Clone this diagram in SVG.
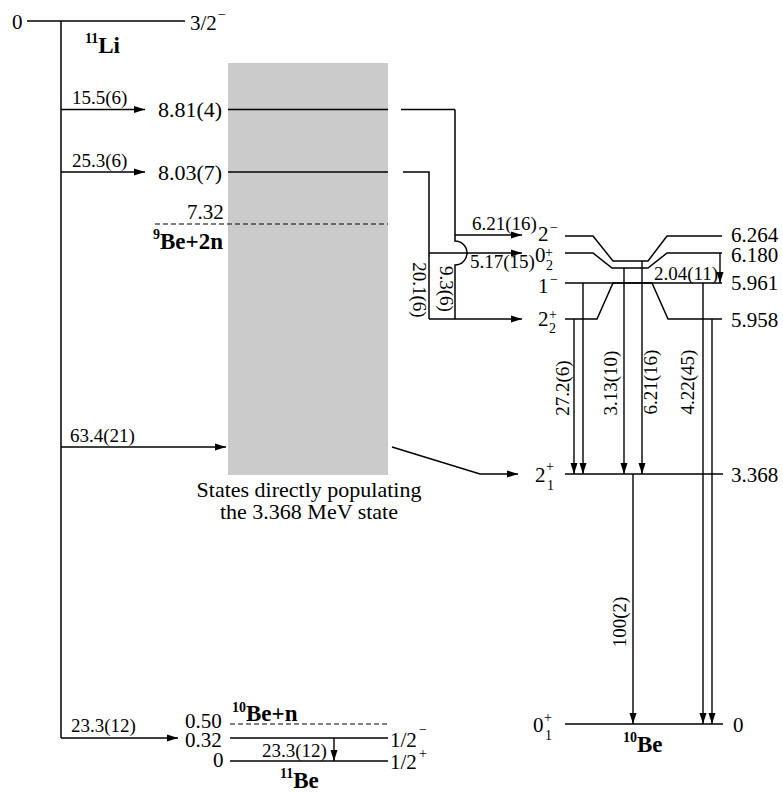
<svg xmlns="http://www.w3.org/2000/svg" width="783" height="793" viewBox="0 0 783 793">
<defs>
<marker id="ah" markerWidth="12" markerHeight="8" refX="11" refY="4" orient="auto" markerUnits="userSpaceOnUse"><path d="M0,0.5 L11,4 L0,7.5 z" fill="#000"/></marker>
<style>
.ln{stroke:#000;stroke-width:1.5;fill:none}
.ds{stroke:#000;stroke-width:1.2;fill:none;stroke-dasharray:5,3}
.ar{stroke:#000;stroke-width:1.4;fill:none;marker-end:url(#ah)}
text{font-family:'Liberation Serif','Times New Roman',serif}
.e{font-size:21px}
.e2{font-size:22px}
.i{font-size:19px}
.b{font-weight:bold;font-size:23px}
.s{font-size:14px}
.sb{font-size:14px;font-weight:bold}
.c{text-anchor:middle}
</style>
</defs>
<rect x="0" y="0" width="783" height="793" fill="#fff"/>
<g fill="#000">

<g id="box">
<rect x="228" y="63" width="160" height="412" fill="#cbcbcb"/>
<text class="e2 c" x="309" y="497">States directly populating</text>
<text class="e2 c" x="309" y="519">the 3.368 MeV state</text>
</g>

<g id="li11-gs">
<line class="ln" x1="27" y1="21" x2="185" y2="21"/>
<text class="e" x="12" y="29">0</text>
<text class="e" x="190" y="30">3/2</text><text class="s" x="218" y="19">−</text>
<text class="b" x="85" y="53"><tspan class="sb" dy="-10">11</tspan><tspan dy="10">Li</tspan></text>
</g>

<g id="li11-881">
<line class="ln" x1="228" y1="109.5" x2="388" y2="109.5"/>
<text class="e2" x="158" y="117">8.81(4)</text>
</g>

<g id="li11-803">
<line class="ln" x1="228" y1="172" x2="388" y2="172"/>
<text class="e2" x="158" y="180">8.03(7)</text>
</g>

<g id="be9-2n">
<line class="ds" x1="155" y1="224" x2="388" y2="224"/>
<text class="e" x="187" y="219">7.32</text>
<text class="b" x="153" y="249"><tspan class="sb" dy="-10">9</tspan><tspan dy="10">Be+2n</tspan></text>
</g>

<g id="be10-n">
<line class="ds" x1="230" y1="724" x2="388" y2="724"/>
<text class="e" x="185" y="728">0.50</text>
<text class="b" x="232" y="721"><tspan class="sb" dy="-9">10</tspan><tspan dy="9">Be+n</tspan></text>
</g>

<g id="be11-032">
<line class="ln" x1="230" y1="738" x2="388" y2="738"/>
<text class="e" x="185" y="747">0.32</text>
<text class="e" x="390" y="747">1/2</text><text class="s" x="419" y="734">−</text>
</g>

<g id="be11-gs">
<line class="ln" x1="230" y1="761" x2="388" y2="761"/>
<text class="e" x="213" y="767">0</text>
<text class="e" x="390" y="769">1/2</text><text class="s" x="419" y="758">+</text>
<text class="b" x="280" y="788"><tspan class="sb" dy="-10">11</tspan><tspan dy="10">Be</tspan></text>
</g>

<g id="be10-6264">
<polyline class="ln" points="565,236 593,236 613,261 648,261 667,236 722,236"/>
<text class="e" x="538" y="241">2</text><text class="s" x="550" y="232">−</text>
<text class="e" x="731" y="242">6.264</text>
</g>

<g id="be10-6180">
<polyline class="ln" points="565,253 593,253 612,268 648,268 667,253 722,253"/>
<text class="e" x="535" y="262">0</text><text class="s" x="545" y="257">+</text><text class="s" x="546" y="270">2</text>
<text class="e" x="731" y="262">6.180</text>
</g>

<g id="be10-5961">
<line class="ln" x1="565" y1="283" x2="722" y2="283"/>
<text class="e" x="538" y="293">1</text><text class="s" x="550" y="284">−</text>
<text class="e" x="731" y="290">5.961</text>
</g>

<g id="be10-5958">
<polyline class="ln" points="565,319 597,319 613,283 652,283 668,319 722,319"/>
<text class="e" x="538" y="326">2</text><text class="s" x="549" y="319">+</text><text class="s" x="549" y="333">2</text>
<text class="e" x="731" y="327">5.958</text>
</g>

<g id="be10-3368">
<line class="ln" x1="565" y1="474" x2="723" y2="474"/>
<text class="e" x="535" y="482">2</text><text class="s" x="546" y="471">+</text><text class="s" x="547" y="490">1</text>
<text class="e" x="731" y="482">3.368</text>
</g>

<g id="be10-gs">
<line class="ln" x1="565" y1="724" x2="723" y2="724"/>
<text class="e" x="533" y="732">0</text><text class="s" x="544" y="722">+</text><text class="s" x="545" y="740">1</text>
<text class="e" x="733" y="732">0</text>
<text class="b" x="623" y="752"><tspan class="sb" dy="-10">10</tspan><tspan dy="10">Be</tspan></text>
</g>

<g id="connectors">
<line class="ln" x1="61" y1="21" x2="61" y2="738"/>
<line class="ar" x1="61" y1="109.5" x2="145" y2="109.5"/>
<text class="i" x="72" y="104">15.5(6)</text>
<line class="ar" x1="61" y1="172" x2="145" y2="172"/>
<text class="i" x="72" y="167">25.3(6)</text>
<line class="ar" x1="61" y1="447" x2="226" y2="447"/>
<text class="i" x="70" y="442">63.4(21)</text>
<polyline class="ar" points="61,738 178,738"/>
<text class="i" x="71" y="732">23.3(12)</text>

<line class="ar" x1="334" y1="738" x2="334" y2="761"/>
<text class="i" x="262" y="757">23.3(12)</text>

<polyline class="ln" points="401,109.5 455,109.5"/>
<path class="ln" d="M455,109.5 V241 A12,12 0 0,1 455,265 V319"/>
<polyline class="ln" points="403,172 429,172 429,319"/>
<line class="ar" x1="455" y1="235" x2="522" y2="235"/>
<line class="ar" x1="429" y1="253" x2="522" y2="253"/>
<line class="ar" x1="429" y1="319" x2="522" y2="319"/>
<text class="i" x="472" y="230">6.21(16)</text>
<text class="i" x="470" y="268">5.17(15)</text>
<text class="i c" transform="translate(413,290) rotate(90)">20.1(6)</text>
<text class="i c" transform="translate(440,289) rotate(90)">9.3(6)</text>

<polyline class="ar" points="392,447 480,474 518,474"/>

<line class="ar" x1="574" y1="319" x2="574" y2="474"/>
<line class="ar" x1="583" y1="283" x2="583" y2="474"/>
<line class="ar" x1="624" y1="268" x2="624" y2="474"/>
<line class="ar" x1="642" y1="261" x2="642" y2="474"/>
<line class="ar" x1="720" y1="253" x2="720" y2="283"/>
<line class="ar" x1="633" y1="474" x2="633" y2="724"/>
<line class="ar" x1="703" y1="283" x2="703" y2="724"/>
<line class="ar" x1="712" y1="319" x2="712" y2="724"/>
<text class="i" x="654" y="280">2.04(11)</text>
<text class="i c" transform="translate(569,388) rotate(-90)">27.2(6)</text>
<text class="i c" transform="translate(617,383) rotate(-90)">3.13(10)</text>
<text class="i c" transform="translate(657,382) rotate(-90)">6.21(16)</text>
<text class="i c" transform="translate(694,382) rotate(-90)">4.22(45)</text>
<text class="i c" transform="translate(626,622) rotate(-90)">100(2)</text>
</g>
</g>
</svg>
